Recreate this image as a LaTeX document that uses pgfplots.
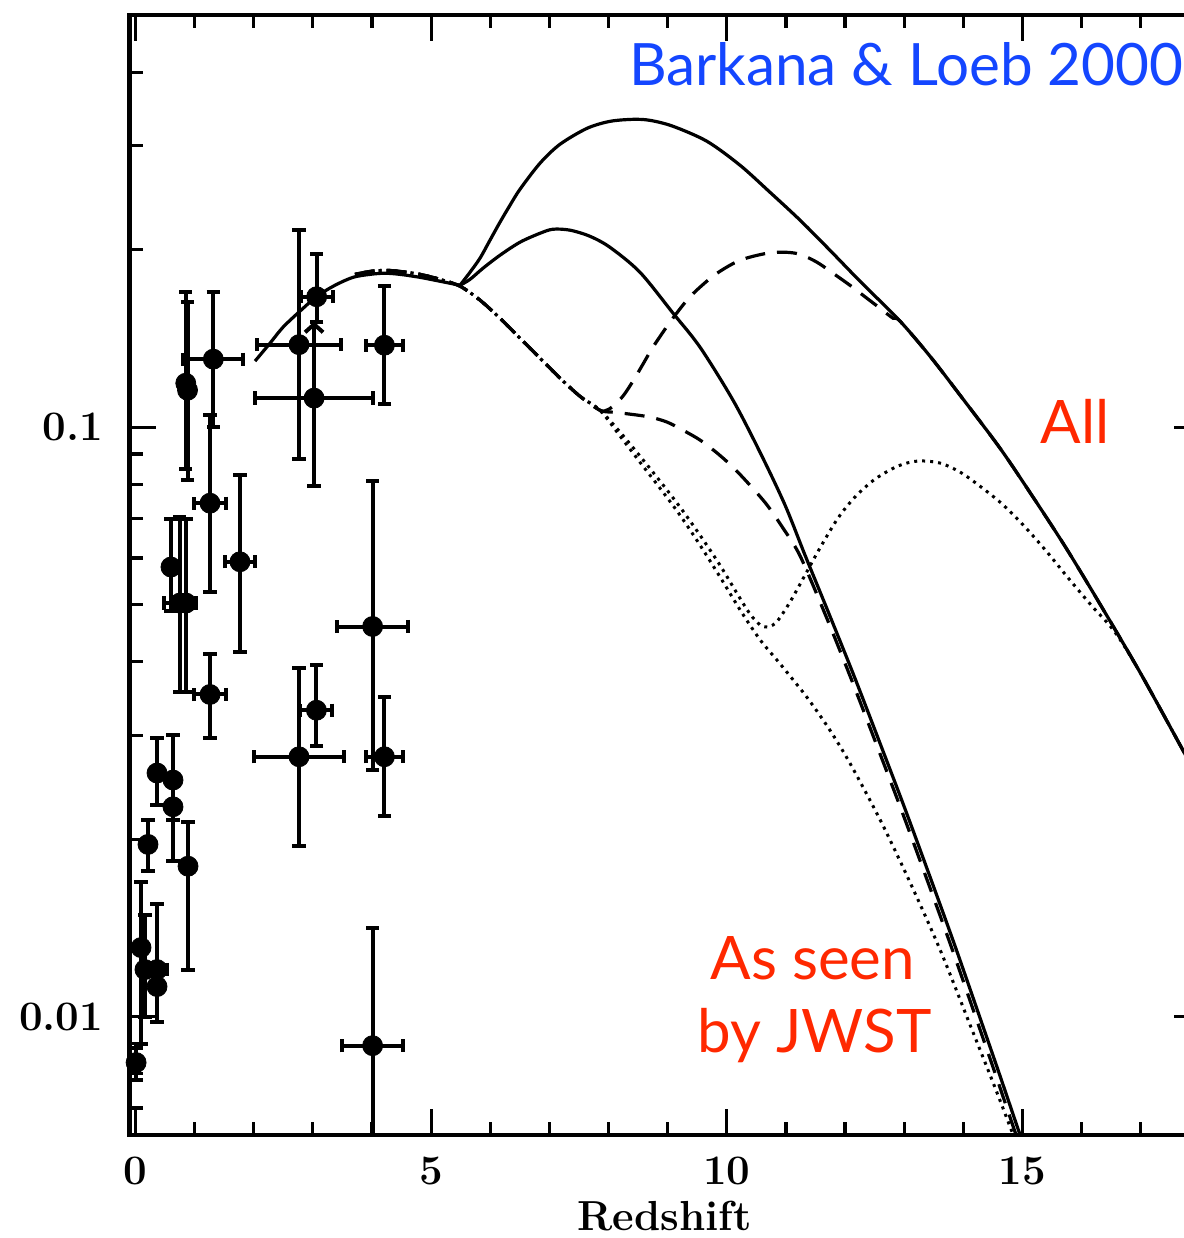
\documentclass[border=0pt]{standalone}
\usepackage{fontspec}
\usepackage{pgfplots}
\pgfplotsset{compat=1.18}
\usepackage{pgfplotstable}
\usetikzlibrary{arrows.meta}
\newfontfamily\notefont{Lato}
\definecolor{noteblue}{RGB}{20,70,255}
\definecolor{notered}{RGB}{255,40,0}

% observed points: x, y, x half-width, y error plus, y error minus
\pgfplotstableread{
x      y        ex    ep       em
1.26   0.0743   0.27  0.0304   0.0217
1.26   0.0352   0.27  0.0060   0.0055
0.85   0.1187   0     0.0509   0.0339
0.88   0.1155   0     0.0476   0.0340
1.316  0.1304   0.51  0.0392   0.0303
1.767  0.0591   0.255 0.0238   0.0175
2.765  0.138    0.71  0.0783   0.0498
3.064  0.1664   0.27  0.0299   0.0154
3.02   0.112    1.0   0        0.0325
4.21   0.1377   0.31  0.0357   0.0283
4.01   0.0459   0.6   0.0352   0.0197
3.06   0.0331   0.27  0.0064   0.0043
2.765  0.0276   0.76  0.0114   0.0081
4.21   0.0276   0.31  0.0072   0.0057
4.01   0.00893  0.52  0.00522  0.00493
0.364  0.0259   0     0.0038   0.0030
0.634  0.0252   0     0.0049   0.0036
0.634  0.0227   0     0.0074   0.0043
0.211  0.0196   0     0.0020   0.0019
0.888  0.0180   0     0.0034   0.0060
0.60   0.0579   0     0.0119   0.0091
0.75   0.0503   0.27  0.0201   0.0147
0.853  0.0503   0     0.0195   0.0147
0.093  0.0131   0     0.00384  0.0041
0.16   0.01202  0     0.00288  0.00202
0.364  0.01202  0.17  0.00348  0.00222
0.364  0.01125  0     0.001    0.00145
0.01   0.00836  0     0.0005   0.00056
}\points

\begin{document}
\begin{tikzpicture}
\begin{axis}[
  name=ax, at={(0,0)}, anchor=south west, scale only axis,
  width=535.1pt, height=560pt,
  xmin=-0.1, xmax=18, ymin=0.0063, ymax=0.5, ymode=log,
  axis line style={line width=2.2pt},
  tick style={line width=1.6pt, black},
  major tick length=13pt, minor tick length=6.5pt,
  xtick={0,5,10,15}, xticklabels={0,5,10,15},
  minor xtick={1,2,3,4,6,7,8,9,11,12,13,14,16,17},
  ytick={0.01,0.1}, yticklabels={0.01,0.1},
  minor ytick={0.007,0.008,0.009,0.02,0.03,0.04,0.05,0.06,0.07,0.08,0.09,0.2,0.3,0.4,0.5},
  ticklabel style={font=\fontsize{21}{25}\selectfont\bfseries, inner sep=0pt},
  xticklabel shift=11pt, yticklabel shift=13pt,
  xlabel={Redshift},
  xlabel style={font=\fontsize{21}{25}\selectfont\bfseries, inner sep=0pt,
    at={(axis description cs:0.5,0)}, anchor=base, yshift=-47.5pt},
]

% common solid stem
\addplot[black, line width=1.6pt, smooth] coordinates {
(2.021,0.1294) (2.275,0.1388) (2.494,0.1477) (2.782,0.1573) (3.070,0.1667)
(3.373,0.1740) (3.678,0.1795) (3.966,0.1816) (4.220,0.1824) (4.473,0.1816)
(4.812,0.1795) (5.150,0.1768) (5.488,0.1740)};

% solid: all galaxies
\addplot[black, line width=1.6pt, smooth] coordinates {
(5.488,0.1740) (5.657,0.1831) (5.826,0.1934) (5.995,0.2075) (6.164,0.2226)
(6.334,0.2379) (6.503,0.2532) (6.841,0.2803) (7.179,0.3018) (7.636,0.3212)
(8.025,0.3301) (8.414,0.3327) (8.701,0.3314) (9.090,0.3238) (9.666,0.3053)
(10.224,0.2781) (10.731,0.2502) (11.239,0.2244) (11.746,0.1995) (12.253,0.1768)
(12.929,0.1513) (13.437,0.1319) (13.945,0.1133) (14.621,0.0921) (15.179,0.0761)
(15.737,0.0624) (16.312,0.0501) (16.988,0.0384) (17.732,0.0281) (18.003,0.0250)};

% solid: as seen by JWST
\addplot[black, line width=1.6pt, smooth] coordinates {
(5.488,0.1740) (5.657,0.1781) (5.877,0.1860) (6.164,0.1957) (6.503,0.2059)
(6.841,0.2132) (7.061,0.2166) (7.348,0.2158) (7.686,0.2107) (8.025,0.2018)
(8.532,0.1831) (9.090,0.1561) (9.546,0.1367) (10.105,0.1111) (10.561,0.0907)
(10.984,0.0738) (11.322,0.0607) (11.745,0.0478) (12.168,0.0375) (12.591,0.0291)
(13.014,0.02252) (13.437,0.01727) (13.859,0.01319) (14.282,0.00996)
(14.621,0.00794) (14.959,0.00631) (15.1,0.0058)};

% dashed: all galaxies
\addplot[black, line width=1.6pt, smooth, dash pattern=on 10pt off 6pt] coordinates {
(3.712,0.1816) (3.966,0.1837) (4.220,0.1845) (4.473,0.1837) (4.812,0.1816)
(5.150,0.1781) (5.488,0.1734) (5.826,0.1642) (6.164,0.1530) (6.503,0.1415)
(6.841,0.1309) (7.179,0.1211) (7.517,0.1128) (7.856,0.1068) (7.974,0.1069)
(8.076,0.1085) (8.245,0.1129) (8.414,0.1197) (8.583,0.1279) (8.752,0.1367)
(9.040,0.1507) (9.327,0.1642) (9.546,0.1727) (9.835,0.1824) (10.224,0.1919)
(10.680,0.1972) (10.985,0.1980) (11.239,0.1964) (11.526,0.1904) (11.796,0.1824)
(12.084,0.1740) (12.371,0.1654) (12.591,0.1591) (12.811,0.1530) (12.929,0.1513)
(13.437,0.1319) (13.945,0.1133) (14.621,0.0921) (15.179,0.0761)
(15.737,0.0624) (16.312,0.0501) (16.988,0.0384) (17.732,0.0281) (18.003,0.0250)};

% dashed: as seen by JWST
\addplot[black, line width=1.6pt, smooth, dash pattern=on 10pt off 6pt] coordinates {
(3.712,0.1816) (3.966,0.1837) (4.220,0.1845) (4.473,0.1837) (4.812,0.1816)
(5.150,0.1781) (5.488,0.1734) (5.826,0.1642) (6.164,0.1530) (6.503,0.1415)
(6.841,0.1309) (7.179,0.1211) (7.517,0.1128) (7.856,0.1068) (8.076,0.1060)
(8.363,0.1052) (8.701,0.1040) (8.988,0.1020) (9.259,0.0988) (9.546,0.0951)
(9.835,0.0904) (10.105,0.0855) (10.393,0.0797) (10.680,0.0738) (10.951,0.0674)
(11.239,0.0605) (11.677,0.0478) (12.100,0.0375) (12.523,0.0291) (12.946,0.02252)
(13.369,0.01727) (13.791,0.01319) (14.214,0.00996) (14.553,0.00794)
(14.891,0.00631) (15.03,0.0058)};

% dotted: all galaxies
\addplot[black, line width=1.5pt, smooth, dash pattern=on 1.5pt off 2.5pt] coordinates {
(3.712,0.1816) (3.966,0.1837) (4.220,0.1845) (4.473,0.1837) (4.812,0.1816)
(5.150,0.1781) (5.488,0.1734) (5.826,0.1642) (6.164,0.1530) (6.503,0.1415)
(6.841,0.1309) (7.179,0.1211) (7.517,0.1128) (7.856,0.1068) (8.194,0.0981)
(8.532,0.0893) (8.870,0.0810) (9.209,0.0732) (9.546,0.0656) (9.886,0.0583)
(10.190,0.0519) (10.393,0.0482) (10.562,0.0462) (10.697,0.0458) (10.849,0.0468)
(11.069,0.0505) (11.323,0.0561) (11.577,0.0624) (11.881,0.0701) (12.168,0.0761)
(12.506,0.0816) (12.895,0.0859) (13.234,0.0876) (13.606,0.0869) (13.945,0.0839)
(14.283,0.0794) (14.655,0.0741) (15.044,0.0677) (15.416,0.0614) (15.805,0.0550)
(16.177,0.0497) (16.565,0.0449) (16.988,0.0384) (17.732,0.0281) (18.003,0.0250)};

% dotted: as seen by JWST
\addplot[black, line width=1.5pt, smooth, dash pattern=on 1.5pt off 2.5pt] coordinates {
(3.712,0.1816) (3.966,0.1837) (4.220,0.1845) (4.473,0.1837) (4.812,0.1816)
(5.150,0.1781) (5.488,0.1734) (5.826,0.1642) (6.164,0.1530) (6.503,0.1415)
(6.841,0.1309) (7.179,0.1211) (7.517,0.1128) (7.856,0.1068) (8.194,0.0966)
(8.532,0.0872) (8.870,0.0788) (9.209,0.0709) (9.546,0.0631) (9.886,0.0557)
(10.224,0.0490) (10.562,0.0436) (10.900,0.0397) (11.357,0.0348) (11.746,0.0306)
(12.084,0.0269) (12.591,0.0216) (13.099,0.0169) (13.606,0.0130) (14.114,0.00969)
(14.537,0.00758) (14.841,0.00631) (14.959,0.00583)};

% measurements
\addplot[black, only marks, mark=*, mark size=5pt,
  error bars/.cd, x dir=both, x explicit, y dir=both, y explicit,
  error bar style={line width=2pt},
  error mark options={rotate=90, line width=2pt, mark size=3.3pt}]
  table[x=x, y=y, x error=ex, y error plus=ep, y error minus=em] {\points};

% limit arrow
\addplot[black, line width=2pt, -{Straight Barb[length=4pt, width=9pt]}]
  coordinates {(3.02,0.112) (3.02,0.151)};

\node[anchor=base west, inner sep=0pt, text=noteblue,
  font=\notefont\fontsize{29.2}{35}\selectfont] at (axis cs:8.34,0.380) {Barkana \& Loeb 2000};
\node[anchor=base west, inner sep=0pt, text=notered,
  font=\notefont\fontsize{30}{36}\selectfont] at (axis cs:15.30,0.0939) {All};
\node[anchor=base west, inner sep=0pt, text=notered,
  font=\notefont\fontsize{30}{36}\selectfont] at (axis cs:9.716,0.01155) {As seen};
\node[anchor=base west, inner sep=0pt, text=notered,
  font=\notefont\fontsize{30}{36}\selectfont] at (axis cs:9.496,0.00869) {by JWST};
\end{axis}
\pgfresetboundingbox
\useasboundingbox (-64.8pt,-51.5pt) rectangle (527.2pt,567.5pt);
\end{tikzpicture}
\end{document}
